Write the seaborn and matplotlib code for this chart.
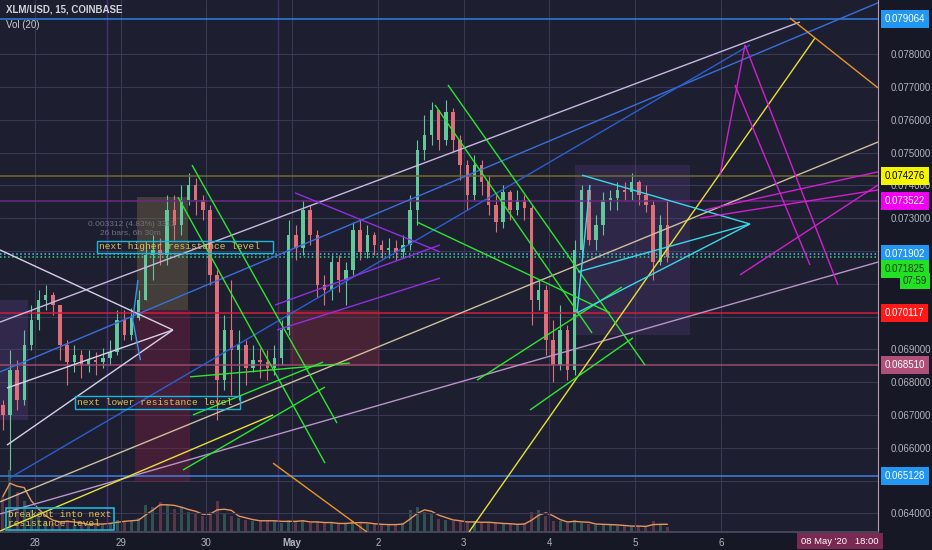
import numpy as np
import pandas as pd
import matplotlib
matplotlib.use('Agg')
import matplotlib.pyplot as plt
from matplotlib.patches import Rectangle
import seaborn as sns

# 2h candles (XLM/USD, Coinbase), first bar Apr 27 14:00
first_open = 0.06730
closes = [0.06700, 0.06837, 0.06746, 0.06913, 0.06989, 0.07050, 0.07066, 0.07035, 0.06913, 0.06861,
          0.06883, 0.06852, 0.06867, 0.06861, 0.06874, 0.06892, 0.06989, 0.06944, 0.06996, 0.07050,
          0.07188, 0.07203, 0.07188, 0.07325, 0.07279, 0.07355, 0.07401, 0.07355, 0.07325, 0.07127,
          0.06806, 0.06959, 0.06898, 0.06913, 0.06843, 0.06867, 0.06861, 0.06843, 0.06874, 0.06959,
          0.07249, 0.07209, 0.07325, 0.07249, 0.07096, 0.07081, 0.07166, 0.07111, 0.07142, 0.07264,
          0.07197, 0.07249, 0.07218, 0.07203, 0.07209, 0.07197, 0.07218, 0.07325, 0.07508, 0.07553,
          0.07630, 0.07538, 0.07624, 0.07538, 0.07462, 0.07370, 0.07462, 0.07410, 0.07340, 0.07288,
          0.07380, 0.07325, 0.07355, 0.07331, 0.07050, 0.07081, 0.06928, 0.06852, 0.06959, 0.06837,
          0.07203, 0.07386, 0.07233, 0.07279, 0.07355, 0.07361, 0.07386, 0.07380, 0.07410, 0.07370,
          0.07340, 0.07166, 0.07279, 0.071825]
highs = [0.06746, 0.06898, 0.06867, 0.06959, 0.07035, 0.07081, 0.07096, 0.07075, 0.07035, 0.06928,
         0.06913, 0.06898, 0.06898, 0.06892, 0.06904, 0.06928, 0.07020, 0.07020, 0.07026, 0.07081,
         0.07218, 0.07249, 0.07239, 0.07370, 0.07370, 0.07401, 0.07438, 0.07422, 0.07370, 0.07340,
         0.07142, 0.07005, 0.07111, 0.06959, 0.06928, 0.06913, 0.06904, 0.06898, 0.06913, 0.06989,
         0.07294, 0.07279, 0.07355, 0.07340, 0.07264, 0.07127, 0.07188, 0.07188, 0.07166, 0.07288,
         0.07294, 0.07279, 0.07258, 0.07233, 0.07239, 0.07233, 0.07249, 0.07370, 0.07538, 0.07614,
         0.07654, 0.07614, 0.07660, 0.07636, 0.07553, 0.07477, 0.07492, 0.07477, 0.07431, 0.07370,
         0.07401, 0.07386, 0.07386, 0.07370, 0.07340, 0.07111, 0.07096, 0.06989, 0.07035, 0.06974,
         0.07233, 0.07401, 0.07401, 0.07310, 0.07380, 0.07386, 0.07410, 0.07410, 0.07438, 0.07416,
         0.07401, 0.07355, 0.07310, 0.07355]
lows = [0.06654, 0.06532, 0.06715, 0.06730, 0.06898, 0.06959, 0.07020, 0.07005, 0.06867, 0.06791,
        0.06831, 0.06813, 0.06831, 0.06822, 0.06843, 0.06852, 0.06883, 0.06928, 0.06928, 0.06989,
        0.07050, 0.07111, 0.07157, 0.07157, 0.07233, 0.07249, 0.07340, 0.07310, 0.07294, 0.07096,
        0.06685, 0.06776, 0.06761, 0.06746, 0.06791, 0.06831, 0.06813, 0.06806, 0.06822, 0.06852,
        0.06944, 0.07172, 0.07188, 0.07218, 0.07057, 0.07035, 0.07050, 0.07075, 0.07035, 0.07127,
        0.07172, 0.07178, 0.07188, 0.07178, 0.07178, 0.07172, 0.07178, 0.07203, 0.07279, 0.07477,
        0.07523, 0.07508, 0.07523, 0.07502, 0.07416, 0.07325, 0.07355, 0.07370, 0.07310, 0.07258,
        0.07270, 0.07294, 0.07310, 0.07294, 0.06974, 0.07020, 0.06883, 0.06800, 0.06837, 0.06806,
        0.06822, 0.07188, 0.07218, 0.07203, 0.07249, 0.07325, 0.07325, 0.07355, 0.07355, 0.07340,
        0.07319, 0.07111, 0.07157, 0.07166]
volumes = [40, 70, 45, 35, 25, 18, 12, 10, 12, 14,
           8, 9, 8, 10, 9, 10, 14, 12, 12, 16,
           30, 28, 34, 30, 26, 28, 22, 20, 18, 22,
           35, 20, 18, 16, 14, 12, 12, 14, 12, 10,
           14, 12, 12, 10, 12, 10, 10, 9, 10, 12,
           10, 9, 9, 8, 8, 9, 10, 25, 28, 22,
           20, 15, 14, 12, 12, 10, 12, 11, 10, 10,
           9, 9, 8, 10, 22, 25, 18, 12, 12, 10,
           14, 10, 9, 8, 9, 8, 7, 7, 6, 7,
           6, 12, 8, 6]

day_labels = ['28', '29', '30', 'May', '2', '3', '4', '5', '6']
price_ticks = [0.064, 0.065, 0.066, 0.067, 0.068, 0.069, 0.070, 0.071,
               0.072, 0.073, 0.074, 0.075, 0.076, 0.077, 0.078]
# these sit behind the coloured price tags in the reference
hidden_ticks = [0.065, 0.070, 0.071, 0.072]

# horizontal levels: price, line colour, line style, label bg, label fg, label shift (pt)
levels = [
    (0.079064, '#2f7fe0', '-', '#2196f3', 'white', 0),
    (0.074276, '#6e6a2a', '-', '#f5f500', 'black', 0),
    (0.073522, '#6a2a80', '-', '#f000f0', 'white', 0),
    (0.071902, '#45c8e8', ':', '#2196f3', 'white', 0),
    (0.071825, '#40d080', ':', '#22e022', '#0b3a0b', -9),
    (0.070117, '#d01c3c', '-', '#ff1a1a', 'white', 0),
    (0.068510, '#9a4a6c', '-', '#b04f78', 'white', 0),
    (0.065128, '#3a80e0', '-', '#2196f3', 'white', 0),
]

# user drawings, (day from Apr 28, price) pairs
trendlines = [
    (-0.408, 0.06983, 8.921, 0.07898, '#c9b8e0'),
    (-0.408, 0.06831, 9.854, 0.07959, '#3a6fd8'),
    (-0.292, 0.06508, 8.338, 0.07828, '#2b5ed0'),
    (-0.408, 0.06435, 9.831, 0.07532, '#cdbf9c'),
    (-0.408, 0.06398, 9.831, 0.07166, '#b895c8'),
    (-0.408, 0.07203, 1.609, 0.06959, '#d8d0e8'),
    (-0.327, 0.06608, 1.609, 0.06959, '#d8d0e8'),
    (-0.327, 0.06782, 1.609, 0.06959, '#d8d0e8'),
    (5.061, 0.06343, 9.096, 0.07849, '#e6e03a'),
    (-0.408, 0.06346, 2.776, 0.06700, '#e6e03a'),
    (8.805, 0.07910, 9.831, 0.07697, '#e8962a'),
    (2.776, 0.06553, 3.872, 0.06343, '#e8962a'),
    (1.831, 0.07462, 3.522, 0.06675, '#2ee62e'),
    (1.668, 0.07364, 3.382, 0.06553, '#2ee62e'),
    (1.808, 0.06816, 3.673, 0.06858, '#2ee62e'),
    (1.843, 0.06700, 3.359, 0.06861, '#2ee62e'),
    (1.726, 0.06532, 3.382, 0.06785, '#2ee62e'),
    (4.816, 0.07706, 7.114, 0.06852, '#2ee62e'),
    (4.665, 0.07645, 6.496, 0.06950, '#2ee62e'),
    (4.455, 0.07288, 6.706, 0.07011, '#2ee62e'),
    (5.155, 0.06806, 6.845, 0.07090, '#2ee62e'),
    (5.773, 0.06715, 6.974, 0.06935, '#2ee62e'),
    (6.379, 0.07431, 8.338, 0.07282, '#38d8e8'),
    (6.332, 0.07136, 8.338, 0.07282, '#38d8e8'),
    (6.321, 0.07011, 8.338, 0.07282, '#38d8e8'),
    (6.321, 0.07011, 6.472, 0.07401, '#38d8e8'),
    (3.032, 0.07377, 4.723, 0.07197, '#9030e0'),
    (2.799, 0.07035, 4.723, 0.07218, '#9030e0'),
    (2.822, 0.06959, 4.723, 0.07117, '#9030e0'),
    (8.280, 0.07828, 9.364, 0.07096, '#d020d0'),
    (8.280, 0.07828, 7.988, 0.07431, '#d020d0'),
    (8.163, 0.07706, 9.038, 0.07157, '#d020d0'),
    (7.813, 0.07325, 9.831, 0.07441, '#d020d0'),
    (8.222, 0.07127, 9.831, 0.07401, '#d020d0'),
    (7.755, 0.07300, 9.831, 0.07386, '#d020d0'),
    (1.140, 0.06989, 1.200, 0.07111, '#2a9df4'),
    (1.140, 0.06989, 1.230, 0.06867, '#2a9df4'),
]

# shaded zones: day0, day1, price0, price1, colour, alpha
zones = [
    (1.190, 1.785, 0.07020, 0.07364, '#8a7a4a', 0.35),
    (1.166, 1.808, 0.06495, 0.07020, '#8a2040', 0.35),
    (2.974, 4.023, 0.06852, 0.07020, '#7a2a3a', 0.45),
    (6.297, 7.638, 0.06944, 0.07462, '#6a4a9a', 0.22),
    (-0.408, -0.082, 0.06685, 0.07050, '#6a4a9a', 0.25),
]

bg = '#1e1e31'
axis_bg = '#161925'
txt = '#b2b5be'
up_col, dn_col = '#62c89c', '#de6e7a'

sns.set_theme(style='dark', rc={'axes.facecolor': bg, 'figure.facecolor': axis_bg})
plt.rcParams['font.family'] = ['Liberation Sans', 'DejaVu Sans']

n = len(closes)
t = (-10 + 2 * np.arange(n) + 1) / 24.0
opens = [first_open] + closes[:-1]
df = pd.DataFrame({'t': t, 'open': opens, 'high': highs, 'low': lows,
                   'close': closes, 'vol': volumes})
df['col'] = np.where(df['close'] >= df['open'], up_col, dn_col)
df['ma'] = df['vol'].rolling(3, min_periods=1).mean()

fig = plt.figure(figsize=(9.32, 5.5), dpi=100)
rect = [0, 18 / 550, 878 / 932, 532 / 550]
xlim = (-0.408, 9.831)
ylim = (0.06343, 0.07965)

# volume pane underneath
vax = fig.add_axes(rect)
vax.set_facecolor(bg)
vax.set_xlim(xlim)
vax.set_ylim(0, 600)
vax.bar(df['t'], df['vol'], width=0.035, color=df['col'], alpha=0.3, lw=0)
sns.lineplot(x=df['t'], y=df['ma'], ax=vax, color='#e8945a', lw=1)
vax.set_xticks([])
vax.set_yticks([])
vax.set_xlabel('')
vax.set_ylabel('')
for s in vax.spines.values():
    s.set_visible(False)

ax = fig.add_axes(rect)
ax.patch.set_visible(False)
ax.set_xlim(xlim)
ax.set_ylim(ylim)

for d in range(len(day_labels)):
    ax.axvline(d, color='#383852', lw=0.8, zorder=0)
for p in price_ticks:
    ax.axhline(p, color='#383852', lw=0.8, zorder=0)
ax.axvline(0.84, color='#5a3a90', lw=1, alpha=0.7, zorder=0)
ax.axvline(2.834, color='#5a3a90', lw=1, alpha=0.6, zorder=0)

for d0, d1, p0, p1, c, a in zones:
    ax.add_patch(Rectangle((d0, p0), d1 - d0, p1 - p0, color=c, alpha=a, lw=0, zorder=1))

# candles
ax.vlines(df['t'], df['low'], df['high'], colors=df['col'], lw=0.8, zorder=3)
body = (df['close'] - df['open']).abs().clip(lower=0.00003)
ax.bar(df['t'], body, bottom=df[['open', 'close']].min(axis=1), width=0.04,
       color=df['col'], lw=0, zorder=4)

for p, lc, ls, bc, fc, dy in levels:
    ax.axhline(p, color=lc, ls=ls, lw=1.1, zorder=5)
    ax.annotate('%.6f' % p, xy=(1, p), xycoords=ax.get_yaxis_transform(),
                xytext=(5, dy), textcoords='offset points', ha='left', va='center',
                fontsize=7, color=fc, annotation_clip=False, zorder=10,
                bbox=dict(boxstyle='square,pad=0.4', fc=bc, ec='none'))
ax.annotate('07:59', xy=(1, 0.071825), xycoords=ax.get_yaxis_transform(),
            xytext=(18, -17.5), textcoords='offset points', ha='left', va='center',
            fontsize=7, color='#0b3a0b', annotation_clip=False, zorder=10,
            bbox=dict(boxstyle='square,pad=0.3', fc='#22e022', ec='none'))

for d0, p0, d1, p1, c in trendlines:
    ax.plot([d0, d1], [p0, p1], color=c, lw=1, zorder=6, solid_capstyle='butt')

box_kw = dict(fontsize=6.8, family=['Liberation Mono', 'DejaVu Sans Mono'], color='#dcc456',
              va='center', ha='left', zorder=8)
ax.text(0.746, 0.07212, 'next higher resistance level  ', **box_kw,
        bbox=dict(boxstyle='square,pad=0.2', fc='none', ec='#1ab8d8', lw=1))
ax.text(0.490, 0.06739, 'next lower resistance level ', **box_kw,
        bbox=dict(boxstyle='square,pad=0.2', fc='none', ec='#1ab8d8', lw=1))
ax.text(-0.315, 0.06382, 'breakout into next\nresistance level  ', linespacing=0.95, **box_kw,
        bbox=dict(boxstyle='square,pad=0.25', fc='none', ec='#1ab8d8', lw=1.2))
ax.text(0.618, 0.07282, '0.003312 (4.83%) 3312', fontsize=6, color='#6e7080', zorder=7, va='center')
ax.text(0.758, 0.07255, '26 bars, 6h 30m', fontsize=6, color='#6e7080', zorder=7, va='center')

ax.yaxis.tick_right()
ax.set_yticks(price_ticks)
ax.set_yticklabels(['' if p in hidden_ticks else '%.6f' % p for p in price_ticks])
ax.set_xticks(range(len(day_labels)))
ax.set_xticklabels(day_labels)
ax.tick_params(axis='y', length=0, pad=9, labelsize=7, colors=txt)
ax.tick_params(axis='x', length=0, pad=4, labelsize=7, colors=txt)
for lab in ax.get_xticklabels():
    if lab.get_text() == 'May':
        lab.set_fontweight('bold')
for name, s in ax.spines.items():
    s.set_visible(name in ('right', 'bottom'))
ax.spines['right'].set_color('#b89ab0')
ax.spines['right'].set_linewidth(0.8)
ax.spines['bottom'].set_color('#4a4a62')

fig.text(6 / 932, 1 - 10 / 550, 'XLM/USD, 15, COINBASE', fontsize=7, fontweight='bold',
         color='#d1d4dc', va='center')
fig.text(6 / 932, 1 - 25 / 550, 'Vol (20)', fontsize=7, color='#c8cad2', va='center')
fig.text(840 / 932, 9 / 550, "08 May '20   18:00", fontsize=6.8, color='white',
         ha='center', va='center', bbox=dict(boxstyle='square,pad=0.4', fc='#7a2a52', ec='none'))

fig.savefig('out.png', dpi=100, facecolor=fig.get_facecolor())
